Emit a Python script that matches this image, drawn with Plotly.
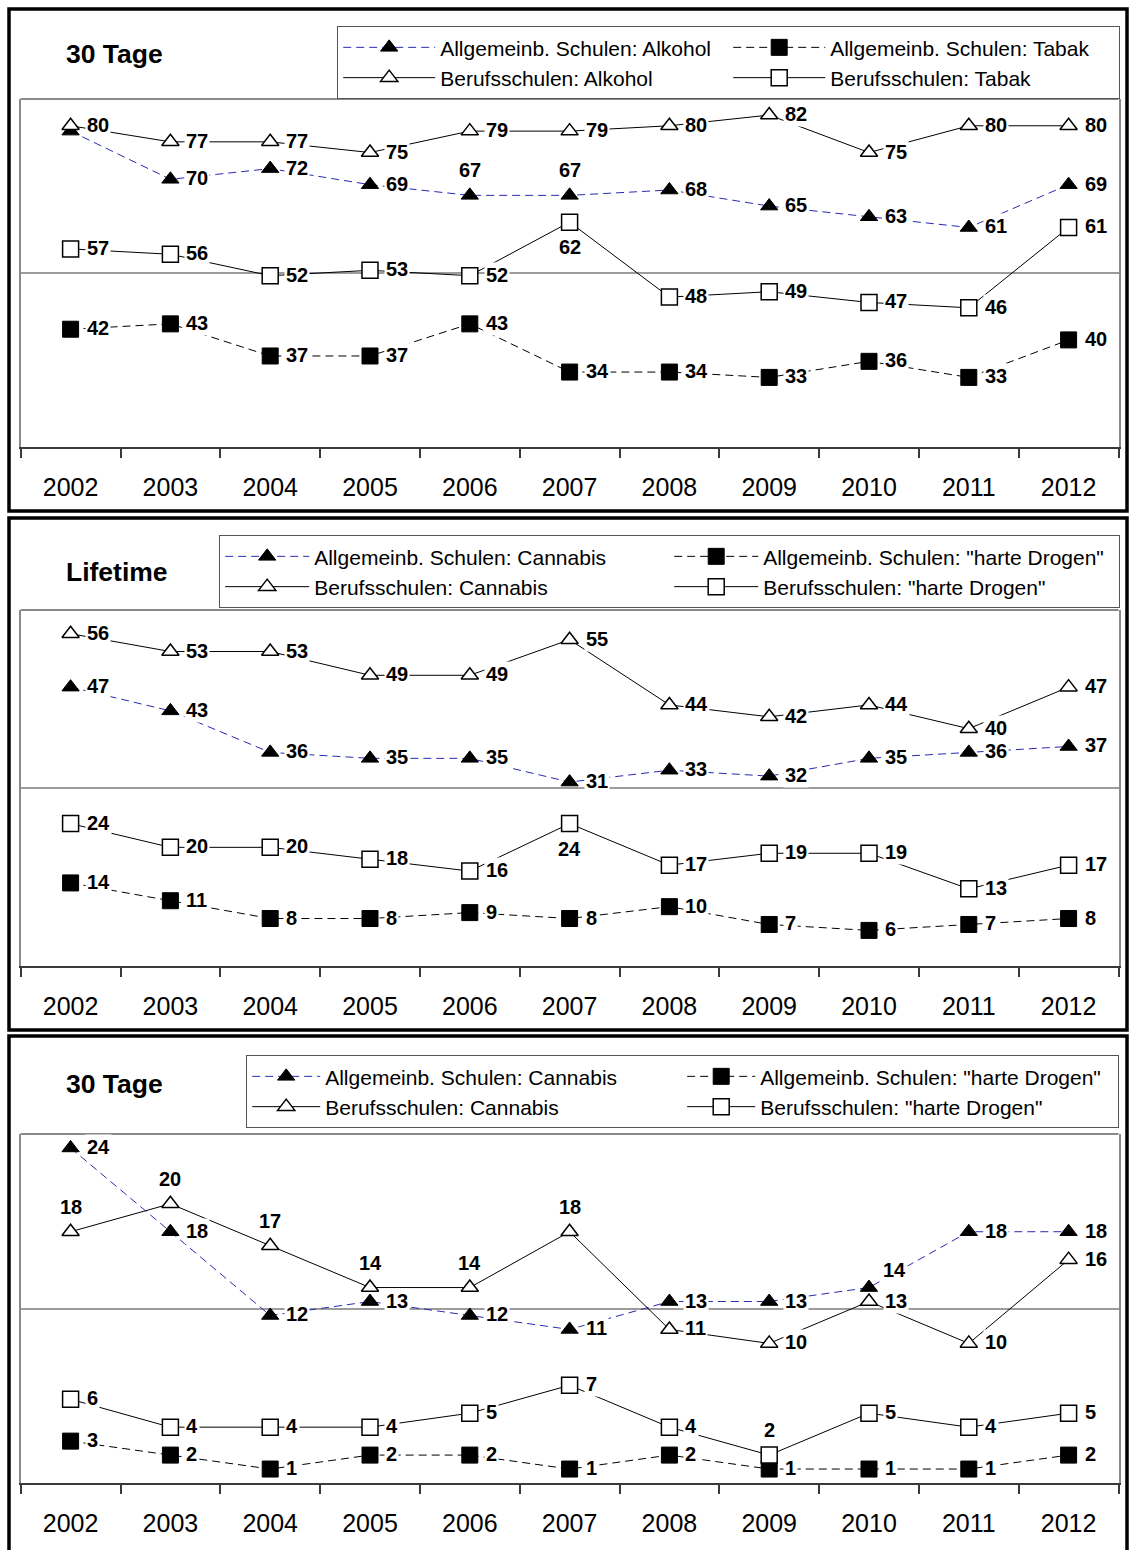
import plotly.graph_objects as go

W, H = 1129, 1550
FONT = "Liberation Sans, Arial, Helvetica, sans-serif"

years = [2002, 2003, 2004, 2005, 2006, 2007, 2008, 2009, 2010, 2011, 2012]
year_labels = [str(y) for y in years]

# --- Panel 1: 30 Tage, Alkohol / Tabak ---
p1_title = "30 Tage"
p1_names = ["Allgemeinb. Schulen: Alkohol", "Allgemeinb. Schulen: Tabak",
            "Berufsschulen: Alkohol", "Berufsschulen: Tabak"]
p1_allg_a = [79, 70, 72, 69, 67, 67, 68, 65, 63, 61, 69]
p1_allg_b = [42, 43, 37, 37, 43, 34, 34, 33, 36, 33, 40]
p1_beruf_a = [80, 77, 77, 75, 79, 79, 80, 82, 75, 80, 80]
p1_beruf_b = [57, 56, 52, 53, 52, 62, 48, 49, 47, 46, 61]

# --- Panel 2: Lifetime, Cannabis / "harte Drogen" ---
p2_title = "Lifetime"
p2_names = ["Allgemeinb. Schulen: Cannabis", 'Allgemeinb. Schulen: "harte Drogen"',
            "Berufsschulen: Cannabis", 'Berufsschulen: "harte Drogen"']
p2_allg_a = [47, 43, 36, 35, 35, 31, 33, 32, 35, 36, 37]
p2_allg_b = [14, 11, 8, 8, 9, 8, 10, 7, 6, 7, 8]
p2_beruf_a = [56, 53, 53, 49, 49, 55, 44, 42, 44, 40, 47]
p2_beruf_b = [24, 20, 20, 18, 16, 24, 17, 19, 19, 13, 17]

# --- Panel 3: 30 Tage, Cannabis / "harte Drogen" ---
p3_title = "30 Tage"
p3_names = p2_names
p3_allg_a = [24, 18, 12, 13, 12, 11, 13, 13, 14, 18, 18]
p3_allg_b = [3, 2, 1, 2, 2, 1, 2, 1, 1, 1, 2]
p3_beruf_a = [18, 20, 17, 14, 14, 18, 11, 10, 13, 10, 16]
p3_beruf_b = [6, 4, 4, 4, 5, 7, 4, 2, 5, 4, 5]

# label placement per point: r = right, t = above, b = below, q = upper right, "" = none
p1_pos_allg_a = ["", "r", "r", "r", "t", "t", "r", "r", "r", "r", "r"]
p1_pos_allg_b = ["r"] * 11
p1_pos_beruf_a = ["r"] * 11
p1_pos_beruf_b = ["r", "r", "r", "r", "r", "b", "r", "r", "r", "r", "r"]

p2_pos_allg_a = ["r"] * 11
p2_pos_allg_b = ["r"] * 11
p2_pos_beruf_a = ["r"] * 11
p2_pos_beruf_b = ["r", "r", "r", "r", "r", "b", "r", "r", "r", "r", "r"]

p3_pos_allg_a = ["r", "r", "r", "r", "r", "r", "r", "r", "q", "r", "r"]
p3_pos_allg_b = ["r"] * 11
p3_pos_beruf_a = ["t", "t", "t", "t", "t", "t", "r", "r", "r", "r", "r"]
p3_pos_beruf_b = ["r", "r", "r", "r", "r", "r", "r", "t", "r", "r", "r"]

# panel geometry in pixels; legend = (left, top, itemwidth, entrywidth)
panels = [
    dict(title=p1_title, names=p1_names,
         series=[p1_allg_a, p1_allg_b, p1_beruf_a, p1_beruf_b],
         pos=[p1_pos_allg_a, p1_pos_allg_b, p1_pos_beruf_a, p1_pos_beruf_b],
         yrange=[20, 85], frame=(9, 9, 1127, 511), plot=(99, 447),
         title_y=54, legend=(337, 26, 92, 283)),
    dict(title=p2_title, names=p2_names,
         series=[p2_allg_a, p2_allg_b, p2_beruf_a, p2_beruf_b],
         pos=[p2_pos_allg_a, p2_pos_allg_b, p2_pos_beruf_a, p2_pos_beruf_b],
         yrange=[0, 60], frame=(9, 518, 1127, 1030), plot=(610, 966),
         title_y=572, legend=(219, 535, 84, 350)),
    dict(title=p3_title, names=p3_names,
         series=[p3_allg_a, p3_allg_b, p3_beruf_a, p3_beruf_b],
         pos=[p3_pos_allg_a, p3_pos_allg_b, p3_pos_beruf_a, p3_pos_beruf_b],
         yrange=[0, 25], frame=(9, 1036, 1127, 1560), plot=(1134, 1483),
         title_y=1084, legend=(246, 1055, 68, 352)),
]

PLOT_X0, PLOT_X1 = 20.7, 1118.5

styles = [
    dict(line=dict(color="#2a2ab0", width=1, dash="8px,5px"),
         marker=dict(symbol="triangle-up", size=15, color="black",
                     line=dict(color="black", width=1))),
    dict(line=dict(color="black", width=1, dash="8px,5px"),
         marker=dict(symbol="square", size=16, color="black",
                     line=dict(color="black", width=1))),
    dict(line=dict(color="black", width=1),
         marker=dict(symbol="triangle-up", size=15, color="white",
                     line=dict(color="black", width=1.5))),
    dict(line=dict(color="black", width=1),
         marker=dict(symbol="square", size=16, color="white",
                     line=dict(color="black", width=1.5))),
]


def px_x(x):
    return x / W


def px_y(y):
    return 1 - y / H


fig = go.Figure()
annotations = []
shapes = []
layout = {}

for i, p in enumerate(panels):
    n = "" if i == 0 else str(i + 1)
    xa, ya = "x" + n, "y" + n
    leg = "legend" + n

    for k, (name, vals) in enumerate(zip(p["names"], p["series"])):
        fig.add_trace(go.Scatter(
            x=years, y=vals, name=name, mode="lines+markers",
            xaxis=xa, yaxis=ya, legend=leg, cliponaxis=False,
            line=styles[k]["line"], marker=styles[k]["marker"],
            hoverinfo="skip"))

    # value labels with white background boxes
    for k, vals in enumerate(p["series"]):
        for yr, v, where in zip(years, vals, p["pos"][k]):
            if not where:
                continue
            a = dict(x=yr, y=v, xref=xa, yref=ya, text=str(v), showarrow=False,
                     font=dict(family=FONT, size=20, color="black", weight="bold"),
                     bgcolor="white", borderpad=1)
            if where == "r":
                a.update(xanchor="left", yanchor="middle", xshift=14, yshift=1)
            elif where == "t":
                a.update(xanchor="center", yanchor="bottom", yshift=12)
            elif where == "b":
                a.update(xanchor="center", yanchor="top", yshift=-12)
            elif where == "q":
                a.update(xanchor="left", yanchor="middle", xshift=12, yshift=18)
            annotations.append(a)

    top, bot = p["plot"]
    y0, y1 = p["yrange"]
    layout["xaxis" + n] = dict(
        domain=[px_x(PLOT_X0), px_x(PLOT_X1)], anchor=ya,
        range=[years[0] - 0.5, years[-1] + 0.5],
        tickvals=years, ticktext=year_labels,
        ticks="outside", ticklen=9, tickcolor="rgba(0,0,0,0)",
        minor=dict(ticks="outside", ticklen=9, tickwidth=1.5, tickcolor="#3a3a3a",
                   tick0=years[0] - 0.5, dtick=1, showgrid=False),
        showline=True, linecolor="#3a3a3a", linewidth=2,
        showgrid=False, zeroline=False, ticklabelstandoff=8,
        tickfont=dict(family=FONT, size=25, color="black"),
        fixedrange=True, automargin=False)
    layout["yaxis" + n] = dict(
        domain=[px_y(bot), px_y(top)], anchor=xa, range=[y0, y1],
        tickvals=[(y0 + y1) / 2], showticklabels=False, ticks="",
        showgrid=True, gridcolor="#9c9c9c", gridwidth=1.5, zeroline=False,
        showline=True, mirror=True, linecolor="#8a8a8a", linewidth=2,
        fixedrange=True, automargin=False)

    # top edge of the plot box
    shapes.append(dict(type="line", xref=xa + " domain", yref=ya + " domain",
                       x0=0, x1=1, y0=1, y1=1,
                       line=dict(color="#8a8a8a", width=2)))

    # outer frame of the panel
    fx0, fy0, fx1, fy1 = p["frame"]
    shapes.append(dict(type="rect", xref="paper", yref="paper",
                       x0=px_x(fx0), x1=px_x(fx1), y0=px_y(fy1), y1=px_y(fy0),
                       line=dict(color="black", width=3.5)))

    # panel title
    annotations.append(dict(xref="paper", yref="paper", x=px_x(64), y=px_y(p["title_y"]),
                            xanchor="left", yanchor="middle", showarrow=False,
                            text=p["title"],
                            font=dict(family=FONT, size=26.5, color="black", weight="bold")))

    lx, ly, iw, ew = p["legend"]
    layout[leg] = dict(orientation="h", x=px_x(lx), y=px_y(ly),
                       xanchor="left", yanchor="top", traceorder="normal",
                       bgcolor="white", bordercolor="#555555", borderwidth=1.2,
                       itemwidth=iw, entrywidth=ew, entrywidthmode="pixels",
                       font=dict(family=FONT, size=21, color="black"),
                       itemclick=False, itemdoubleclick=False)

fig.update_layout(
    width=W, height=H, margin=dict(l=0, r=0, t=0, b=0, autoexpand=False),
    paper_bgcolor="white", plot_bgcolor="white",
    showlegend=True, annotations=annotations, shapes=shapes,
    font=dict(family=FONT, color="black"),
    **layout)

fig.write_html("out.html")
